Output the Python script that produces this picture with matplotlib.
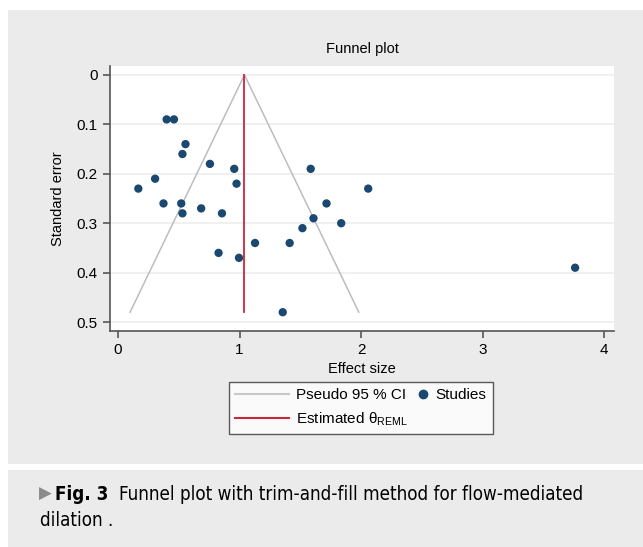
import matplotlib
matplotlib.use("Agg")
import matplotlib.pyplot as plt
from matplotlib.patches import Rectangle
from matplotlib.lines import Line2D
from matplotlib.legend_handler import HandlerBase

# study effect sizes and standard errors
effect = [0.40, 0.46, 0.555, 0.53, 0.756, 0.956, 0.975, 0.167, 0.305, 0.374,
          0.52, 0.53, 0.684, 0.855, 0.827, 0.995, 1.127, 1.355, 1.585, 2.058,
          1.715, 1.608, 1.836, 1.517, 1.412, 3.76]
se = [0.09, 0.09, 0.14, 0.16, 0.18, 0.19, 0.22, 0.23, 0.21, 0.26,
      0.26, 0.28, 0.27, 0.28, 0.36, 0.37, 0.34, 0.48, 0.19, 0.23,
      0.26, 0.29, 0.30, 0.31, 0.34, 0.39]
theta = 1.04
se_max = 0.48
xticks = [0, 1, 2, 3, 4]
yticks = [0, 0.1, 0.2, 0.3, 0.4, 0.5]

W, H = 643, 547
GRAY = "#ebebeb"
BLUE = "#1a4870"
RED = "#c8283c"
plt.rcParams["font.family"] = ["Liberation Sans", "DejaVu Sans"]
plt.rcParams["mathtext.default"] = "regular"

fig = plt.figure(figsize=(W / 100, H / 100), dpi=100, facecolor="white")

# background panels (pixel coords from the top)
def panel(x0, y0, x1, y1):
    fig.patches.append(Rectangle((x0 / W, 1 - y1 / H), (x1 - x0) / W, (y1 - y0) / H,
                                 transform=fig.transFigure, facecolor=GRAY,
                                 edgecolor="none", zorder=-10))

panel(8, 10, W, 464)
panel(8, 470, W, H)

ax = fig.add_axes([110 / W, 1 - 331 / H, (614 - 110) / W, (331 - 66) / H])
ax.set_facecolor("white")

# funnel limits
lo = theta - 1.96 * se_max
hi = theta + 1.96 * se_max
ax.plot([lo, theta, hi], [se_max, 0, se_max], color="#bdbdbd", lw=1.1, zorder=2)
ax.plot([theta, theta], [0, se_max], color=RED, lw=1.3, zorder=3)
ax.scatter(effect, se, s=36, color=BLUE, edgecolor="none", zorder=4)

ax.set_xlim(-0.066, 4.08)
ax.set_ylim(0.518, -0.018)
ax.set_xticks(xticks)
ax.set_xticklabels([str(t) for t in xticks])
ax.set_yticks(yticks)
ax.set_yticklabels(["0", "0.1", "0.2", "0.3", "0.4", "0.5"])
ax.grid(axis="y", color="#eeeeee", lw=1.2)
ax.set_axisbelow(True)
for s in ["top", "right"]:
    ax.spines[s].set_visible(False)
for s in ["left", "bottom"]:
    ax.spines[s].set_color("#555555")
    ax.spines[s].set_linewidth(1.2)
ax.tick_params(length=5, width=1.2, color="#555555", labelsize=11, pad=4)

ax.set_xlabel("Effect size", fontsize=10.5, labelpad=3)
ax.set_ylabel("Standard error", fontsize=10.5, labelpad=8)
ax.set_title("Funnel plot", fontsize=10.5, pad=9)


class RightDot(HandlerBase):
    # dot sits at the right end of the handle box, next to its label
    def create_artists(self, legend, orig_handle, xdescent, ydescent,
                       width, height, fontsize, trans):
        d = Line2D([width - xdescent - 4], [(height - ydescent) / 2], marker="o",
                   ls="none", color=BLUE, markersize=6)
        d.set_transform(trans)
        return [d]


dot = Line2D([], [], marker="o", ls="none", color=BLUE)
handles = [Line2D([], [], color="#c8c8c8", lw=1.5),
           Line2D([], [], color=RED, lw=1.5),
           dot]
labels = ["Pseudo 95 % CI", "Estimated θ$_{REML}$", "Studies"]
leg = fig.legend(handles, labels, loc="center", bbox_to_anchor=(361 / W, 1 - 408 / H),
                 ncol=2, fontsize=11, frameon=True, fancybox=False, edgecolor="#333333",
                 facecolor="white", handlelength=3.5, handletextpad=0.5,
                 columnspacing=-2.2, borderpad=0.4, labelspacing=0.5,
                 handler_map={dot: RightDot()})
leg.get_frame().set_linewidth(1.0)

# caption
cap = "DejaVu Sans"
fig.text(39 / W, 1 - 494 / H, "▶", color="#8a8a8a", fontsize=12,
         family=["DejaVu Sans"], va="center")
fig.text(55 / W, 1 - 494 / H, "Fig. 3", fontsize=13.5, weight="bold",
         family=cap, stretch="condensed", va="center")
fig.text(119 / W, 1 - 494 / H, "Funnel plot with trim-and-fill method for flow-mediated",
         fontsize=13.5, family=cap, stretch="condensed", va="center")
fig.text(40 / W, 1 - 521 / H, "dilation .", fontsize=13.5, family=cap,
         stretch="condensed", va="center")

fig.savefig("out.png", dpi=100, facecolor="white")
